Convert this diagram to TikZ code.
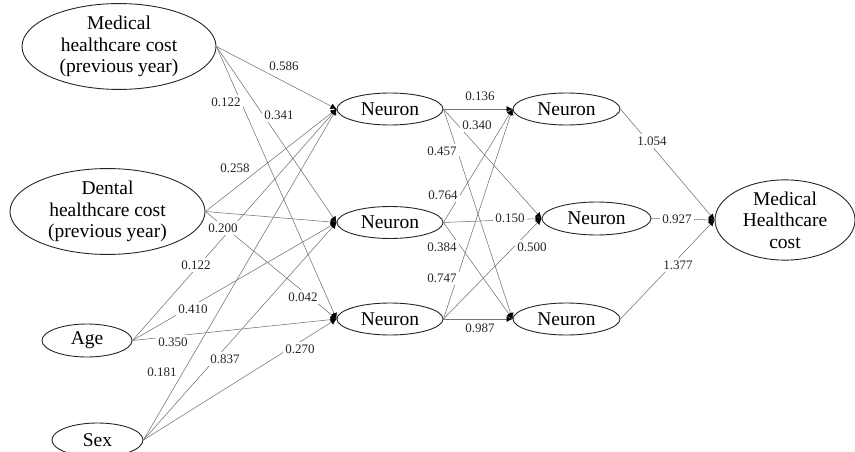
\documentclass[tikz,border=0pt]{standalone}
\usepackage{fontspec}
\setmainfont{Liberation Serif}
\usetikzlibrary{shapes.geometric,arrows.meta}

\begin{document}
\begin{tikzpicture}[x=1pt,y=-1pt,
  unit/.style={ellipse,draw=black!85,line width=0.9pt,inner sep=0pt,
    align=center,font=\fontsize{19.5}{21.5}\selectfont},
  link/.style={draw=black!55,line width=0.55pt,
    -{Latex[length=6pt,width=6pt,color=black]}},
  wt/.style={fill=white,text=black!85,inner xsep=2pt,inner ysep=2.5pt,
    font=\fontsize{13}{15}\selectfont}
]
\useasboundingbox (0,0) rectangle (855,452);

% input layer
\node[unit,minimum width=194pt,minimum height=73pt] (in1) at (119,46.5)
  {Medical\\healthcare cost\\(previous year)};
\node[unit,minimum width=195pt,minimum height=73pt] (in2) at (107.5,211.5)
  {Dental\\healthcare cost\\(previous year)};
\node[unit,minimum width=90pt,minimum height=33pt] (age) at (87,340.5) {Age};
\node[unit,minimum width=91pt,minimum height=34pt] (sex) at (97.5,440) {Sex};

% first hidden layer
\node[unit,minimum width=106pt,minimum height=32pt] (n1) at (390,109) {Neuron};
\node[unit,minimum width=106pt,minimum height=32pt] (n2) at (390,222.5) {Neuron};
\node[unit,minimum width=106pt,minimum height=32pt] (n3) at (390,319) {Neuron};

% second hidden layer
\node[unit,minimum width=107pt,minimum height=32pt] (m1) at (566.5,109) {Neuron};
\node[unit,minimum width=109pt,minimum height=33pt] (m2) at (596.5,218.5) {Neuron};
\node[unit,minimum width=107pt,minimum height=32pt] (m3) at (566.5,319) {Neuron};

% output
\node[unit,minimum width=140pt,minimum height=66pt] (out) at (785,220)
  {Medical\\Healthcare\\cost};

% connections: inputs to first hidden layer
\foreach \s in {in1,in2,age,sex}
  \foreach \t in {n1,n2,n3}
    \draw[link] (\s.east) -- (\t.west);
% first to second hidden layer
\foreach \s in {n1,n2,n3}
  \foreach \t in {m1,m2,m3}
    \draw[link] (\s.east) -- (\t.west);
% second hidden layer to output
\foreach \s in {m1,m2,m3}
  \draw[link] (\s.east) -- (out.west);

% weights
\node[wt] (w1)  at (284,66)  {0.586};
\node[wt] (w2)  at (226,102) {0.122};
\node[wt] (w3)  at (279,115) {0.341};
\node[wt] (w4)  at (235,168) {0.258};
\node[wt] (w5)  at (223,228) {0.200};
\node[wt] (w6)  at (196,265) {0.122};
\node[wt] (w7)  at (303,297) {0.042};
\node[wt] (w8)  at (193,309) {0.410};
\node[wt] (w9)  at (173,342) {0.350};
\node[wt] (w10) at (162,372) {0.181};
\node[wt] (w11) at (225,359) {0.837};
\node[wt] (w12) at (300,349) {0.270};

\node[wt] (w13) at (480,96)  {0.136};
\node[wt] (w14) at (477,125) {0.340};
\node[wt] (w15) at (442,151) {0.457};
\node[wt] (w16) at (443,195) {0.764};
\node[wt] (w17) at (510,218) {0.150};
\node[wt] (w18) at (442,247) {0.384};
\node[wt] (w19) at (442,278) {0.747};
\node[wt] (w20) at (532,247) {0.500};
\node[wt] (w21) at (480,328) {0.987};

\node[wt] (w22) at (652,141) {1.054};
\node[wt] (w23) at (677,219) {0.927};
\node[wt] (w24) at (678,265) {1.377};
\end{tikzpicture}
\end{document}
